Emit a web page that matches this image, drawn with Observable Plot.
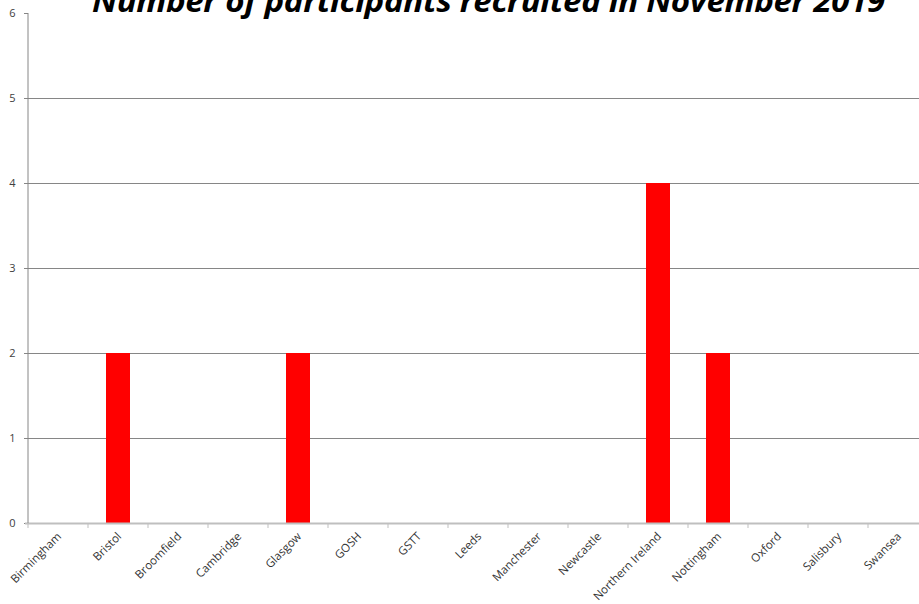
<!DOCTYPE html>
<html><head><meta charset="utf-8">
<script src="https://cdn.jsdelivr.net/npm/d3@7"></script>
<script src="https://cdn.jsdelivr.net/npm/@observablehq/plot@0.6"></script>
<style>
html,body{margin:0;padding:0;background:#fff;overflow:hidden;}
#wrap{position:relative;width:919px;height:604px;overflow:hidden;}
#title{position:absolute;top:-14px;left:92px;text-align:left;font-family:"Open Sans",sans-serif;font-style:italic;font-weight:bold;font-size:30px;line-height:30px;color:#000;white-space:nowrap;transform-origin:0 0;letter-spacing:-0.3px;}
</style></head><body>
<div id="wrap"><div id="chart"></div><div id="title"></div></div>
<script>
const titleText = "Number of participants recruited in November 2019";
const sites = ["Birmingham","Bristol","Broomfield","Cambridge","Glasgow","GOSH","GSTT","Leeds","Manchester","Newcastle","Northern Ireland","Nottingham","Oxford","Salisbury","Swansea"];
const participants = [0,2,0,0,2,0,0,0,0,0,4,2,0,0,0];
const yTicks = [0,1,2,3,4,5,6];
const gridValues = [1,2,3,4,5];

const data = sites.map((s, i) => ({site: s, n: participants[i]}));

function frameLines(index, scales, values, dims) {
  const x = scales.x, y = scales.y;
  const step = x.step ? x.step() : (dims.width - dims.marginLeft - dims.marginRight) / sites.length;
  const bw = x.bandwidth ? x.bandwidth() : 0;
  const y0 = y(0);
  const g = d3.create("svg:g");
  const edges = sites.map(s => x(s) + bw / 2 - step / 2)
    .concat([x(sites[sites.length - 1]) + bw / 2 + step / 2]);
  g.selectAll("line.e").data(edges).join("line")
    .attr("x1", d => d).attr("x2", d => d)
    .attr("y1", y0).attr("y2", y0 + 5)
    .attr("stroke", "#bfbfbf").attr("stroke-width", 1);
  g.append("line")
    .attr("x1", dims.marginLeft).attr("x2", dims.marginLeft)
    .attr("y1", y(d3.max(yTicks))).attr("y2", y0)
    .attr("stroke", "#868686").attr("stroke-width", 1);
  return g.node();
}

const chart = Plot.plot({
  width: 930,
  height: 604,
  marginLeft: 28,
  marginRight: 2,
  marginTop: 13,
  marginBottom: 81,
  style: {fontFamily: "'Open Sans', sans-serif", maxWidth: "none", background: "#fff"},
  x: {type: "band", domain: sites, paddingInner: 0.6, paddingOuter: 0.3, axis: null},
  y: {domain: [0, 6], axis: null},
  marks: [
    Plot.ruleY(gridValues, {stroke: "#868686", strokeWidth: 1}),
    Plot.axisY(yTicks, {tickSize: 4, tickPadding: 9, tickFormat: "d", fontSize: 11, fill: "#404040", stroke: "#868686", label: null}),
    Plot.barY(data, {x: "site", y: "n", fill: "#ff0000"}),
    Plot.ruleY([0], {stroke: "#bfbfbf", strokeWidth: 2, insetLeft: -3}),
    frameLines,
    Plot.text(data, {x: "site", text: "site", frameAnchor: "bottom", rotate: -45, textAnchor: "end", lineAnchor: "middle", dx: 1, dy: 11, fontSize: 11.5, fill: "#333333"})
  ]
});
document.getElementById("chart").appendChild(chart);

const titleEl = document.getElementById("title");
titleEl.textContent = titleText;
const targetWidth = 793;
const w = titleEl.getBoundingClientRect().width;
titleEl.style.transform = "scaleX(" + (targetWidth / w) + ")";
</script>
</body></html>
